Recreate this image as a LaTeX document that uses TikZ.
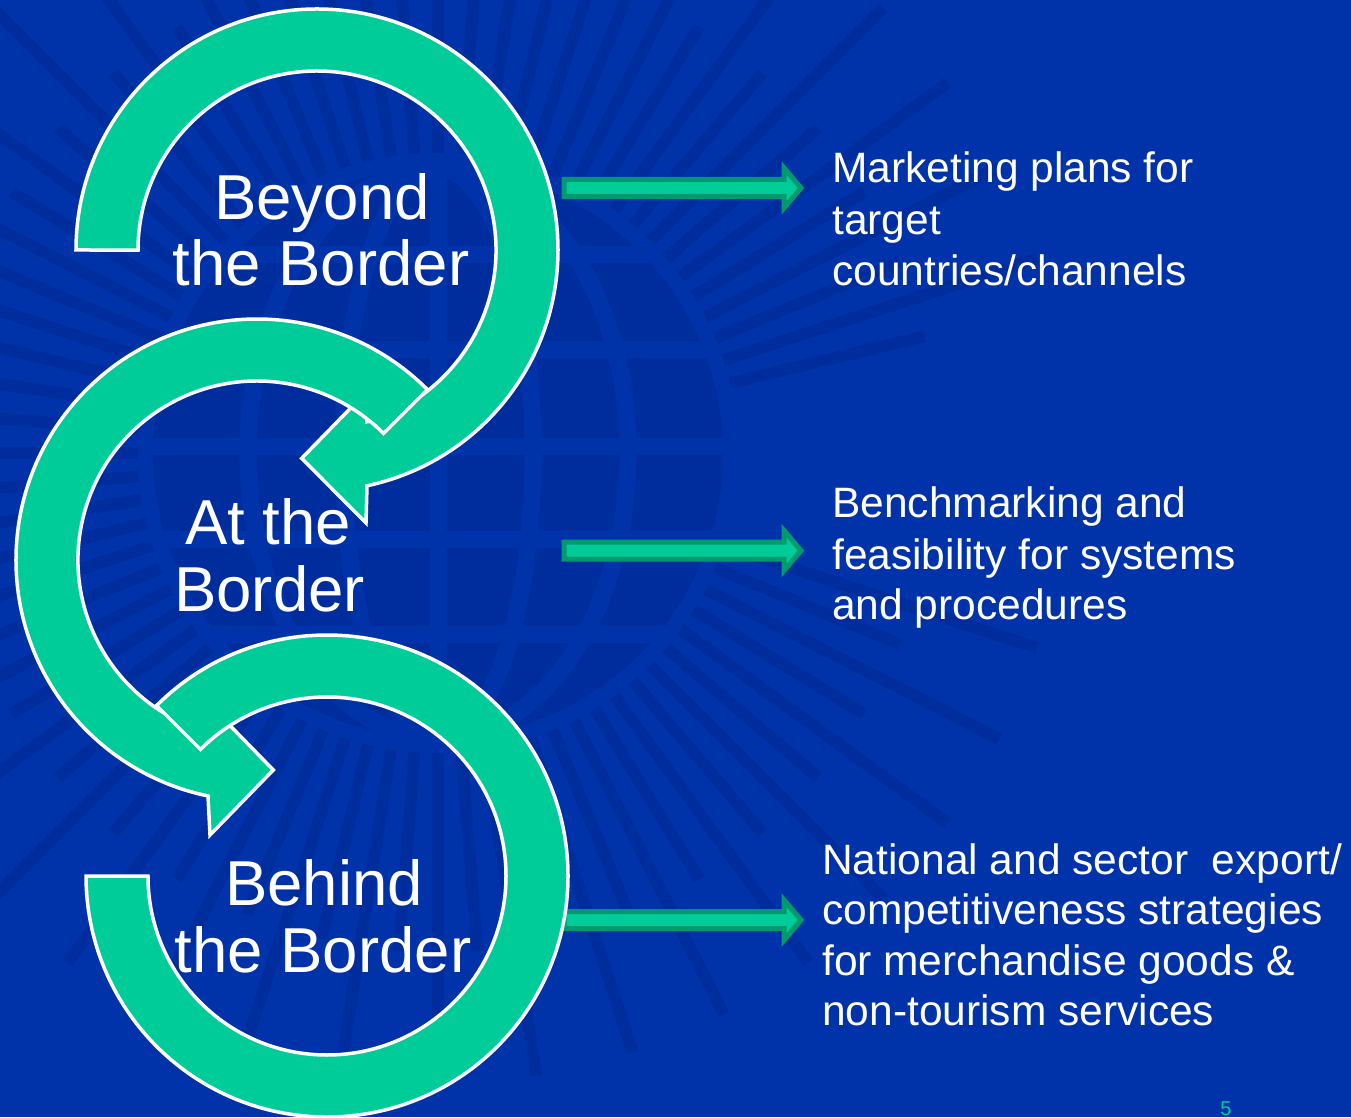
\documentclass[tikz,border=0pt]{standalone}
\usepackage{fontspec}
\setmainfont{Liberation Sans}
\definecolor{slide}{HTML}{0033AA}
\definecolor{rayblue}{HTML}{002D9E}
\definecolor{ringgreen}{HTML}{00CC99}
\definecolor{pointeredge}{HTML}{009970}
\begin{document}
\begin{tikzpicture}[x=1pt,y=1pt,
  ring/.style={fill=ringgreen, draw=white, line width=3.5pt, line join=miter},
  pointer/.style={fill=ringgreen, draw=pointeredge, line width=5pt, line join=miter},
  ringlabel/.style={text=white, font=\fontsize{63.5}{66}\selectfont, inner sep=0pt, anchor=base},
  note/.style={text=white, font=\fontsize{42.5}{51}\selectfont, inner sep=0pt, anchor=base west},
  beam/.style={draw=rayblue, line width=12pt},
  gridline/.style={draw=slide, line width=17pt},
]
\useasboundingbox (0,0) rectangle (1351,1117);
\fill[slide] (0,0) rectangle (1351,1117);

% faint sunburst around a gridded globe
\begin{scope}
  \clip (0,0) rectangle (1351,1117);
  \begin{scope}[shift={(438,664)}]
    \foreach \a in {18,27,...,342} \draw[beam] (\a:300) -- (\a:630);
    \foreach \a in {13.5,22.5,...,337.5} \draw[beam] (\a:300) -- (\a:500);
    \fill[rayblue] (0,0) circle[radius=285];
    \begin{scope}
      \clip (0,0) circle[radius=285];
      \foreach \h in {198,103,6,-87,-182} \draw[gridline] (-300,\h) -- (300,\h);
      \draw[gridline] (0,0) ellipse[x radius=190, y radius=285];
      \draw[gridline] (0,0) ellipse[x radius=95, y radius=285];
      \draw[gridline] (0,-300) -- (0,300);
    \end{scope}
  \end{scope}
\end{scope}

% block arrows toward the descriptions
\foreach \c in {929,566.4,197}
  \draw[pointer] (564,\c+8.5) -- (784,\c+8.5) -- (784,\c+20) -- (801,\c)
    -- (784,\c-20) -- (784,\c-8.5) -- (564,\c-8.5) -- cycle;

% Beyond the Border: clockwise ring ending in an arrowhead
\draw[ring] (76,867) arc[start angle=180, end angle=-78.03, radius=241]
  -- (366,594) -- (301.7,658.7) -- (365,723.7) -- (367,695.1)
  arc[start angle=-73.78, end angle=180, radius=179] -- cycle;

% At the Border: counter-clockwise ring ending in an arrowhead
\draw[ring] (427.4,727.4) arc[start angle=45, end angle=258.27, radius=241]
  -- (210,282) -- (273.3,347) -- (210,412) -- (208,384.8)
  arc[start angle=254.12, end angle=45, radius=179] -- cycle;

% Behind the Border: open ring
\draw[ring] (156.6,411.4) arc[start angle=135, end angle=-180, radius=241]
  -- (148,241) arc[start angle=-180, end angle=135, radius=179] -- cycle;

% ring labels
\node[ringlabel] (beyondA) at (322,897) {Beyond};
\node[ringlabel] (beyondB) at (321,831) {the Border};
\node[ringlabel] (atA) at (268,572) {At the};
\node[ringlabel] (atB) at (269.5,505.5) {Border};
\node[ringlabel] (behindA) at (324,212) {Behind};
\node[ringlabel] (behindB) at (323,145) {the Border};

% descriptions
\node[note] (mktA) at (832,934) {Marketing plans for};
\node[note] (mktB) at (832,882.5) {target};
\node[note] (mktC) at (832,831) {countries/channels};
\node[note] (benchA) at (832,599) {Benchmarking and};
\node[note] (benchB) at (832,547.5) {feasibility for systems};
\node[note] (benchC) at (832,497) {and procedures};
\node[note] (natA) at (822,242.5) {National and sector\ \ export/};
\node[note] (natB) at (822,193) {competitiveness strategies};
\node[note] (natC) at (822,141.5) {for merchandise goods \&};
\node[note] (natD) at (822,92) {non-tourism services};

% slide number
\node[text=ringgreen, font=\fontsize{20}{24}\selectfont, anchor=base, inner sep=0pt] (pagenum) at (1226,2) {5};
\end{tikzpicture}
\end{document}
